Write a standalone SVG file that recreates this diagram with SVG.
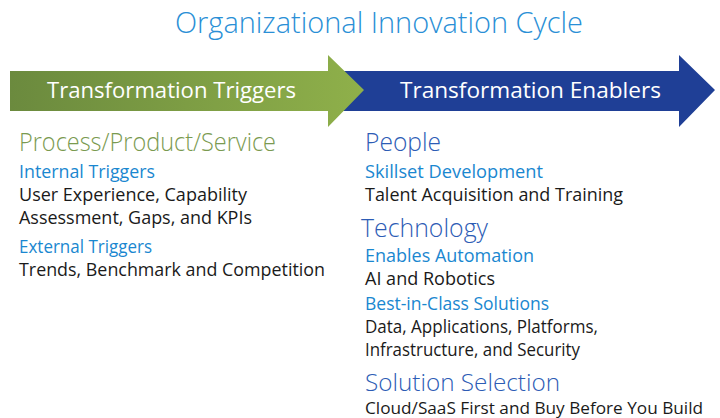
<svg xmlns="http://www.w3.org/2000/svg" width="720" height="418" viewBox="0 0 720 418">
<defs>
<linearGradient id="gGreen" x1="0" y1="0" x2="1" y2="0">
<stop offset="0" stop-color="#6b8a3e"/>
<stop offset="1" stop-color="#8fb04a"/>
</linearGradient>
<style>
text{font-family:"Open Sans","Noto Sans","Liberation Sans",sans-serif}
.title{font-size:29px;font-weight:300;fill:#2a8fd6}
.arr{font-size:22px;fill:#ffffff}
.h1{font-size:25px;font-weight:300}
.green{fill:#7a9a50}
.navy{fill:#2d5cb5}
.sub{font-size:17.5px;fill:#1a87d0}
.body{font-size:17.5px;fill:#1a1a1a}
</style>
</defs>
<text class="title" x="379" y="33" text-anchor="middle" textLength="408" lengthAdjust="spacingAndGlyphs">Organizational Innovation Cycle</text>
<g id="connectors">
<g id="enablers-arrow">
<polygon points="330,71 679,71 679,55 715,90 679,127 679,111 330,111" fill="#1f3f96"/>
<text class="arr" x="400" y="98" textLength="261" lengthAdjust="spacingAndGlyphs">Transformation Enablers</text>
</g>
<g id="triggers-arrow">
<polygon points="10,71 328,71 328,55 364,90 328,127 328,111 10,111" fill="url(#gGreen)"/>
<text class="arr" x="47" y="98" textLength="249" lengthAdjust="spacingAndGlyphs">Transformation Triggers</text>
</g>
</g>
<g id="process">
<text class="h1 green" x="19" y="151" textLength="257" lengthAdjust="spacingAndGlyphs">Process/Product/Service</text>
<text class="sub" x="19" y="178" textLength="136" lengthAdjust="spacingAndGlyphs">Internal Triggers</text>
<text class="body" x="19" y="201" textLength="228" lengthAdjust="spacingAndGlyphs">User Experience, Capability</text>
<text class="body" x="19" y="224" textLength="233" lengthAdjust="spacingAndGlyphs">Assessment, Gaps, and KPIs</text>
<text class="sub" x="19" y="253" textLength="133" lengthAdjust="spacingAndGlyphs">External Triggers</text>
<text class="body" x="19" y="276" textLength="306" lengthAdjust="spacingAndGlyphs">Trends, Benchmark and Competition</text>
</g>
<g id="people">
<text class="h1 navy" x="365" y="151" textLength="76" lengthAdjust="spacingAndGlyphs">People</text>
<text class="sub" x="365" y="178" textLength="178" lengthAdjust="spacingAndGlyphs">Skillset Development</text>
<text class="body" x="365" y="201" textLength="258" lengthAdjust="spacingAndGlyphs">Talent Acquisition and Training</text>
</g>
<g id="technology">
<text class="h1 navy" x="361" y="237" textLength="127" lengthAdjust="spacingAndGlyphs">Technology</text>
<text class="sub" x="365" y="262" textLength="169" lengthAdjust="spacingAndGlyphs">Enables Automation</text>
<text class="body" x="365" y="285" textLength="130" lengthAdjust="spacingAndGlyphs">AI and Robotics</text>
<text class="sub" x="365" y="310" textLength="184" lengthAdjust="spacingAndGlyphs">Best-in-Class Solutions</text>
<text class="body" x="365" y="333" textLength="233" lengthAdjust="spacingAndGlyphs">Data, Applications, Platforms,</text>
<text class="body" x="365" y="356" textLength="215" lengthAdjust="spacingAndGlyphs">Infrastructure, and Security</text>
</g>
<g id="solution">
<text class="h1 navy" x="365" y="391" font-size="24" style="font-size:24px" textLength="195" lengthAdjust="spacingAndGlyphs">Solution Selection</text>
<text class="body" x="365" y="414" style="font-size:17px" textLength="338" lengthAdjust="spacingAndGlyphs">Cloud/SaaS First and Buy Before You Build</text>
</g>
</svg>
